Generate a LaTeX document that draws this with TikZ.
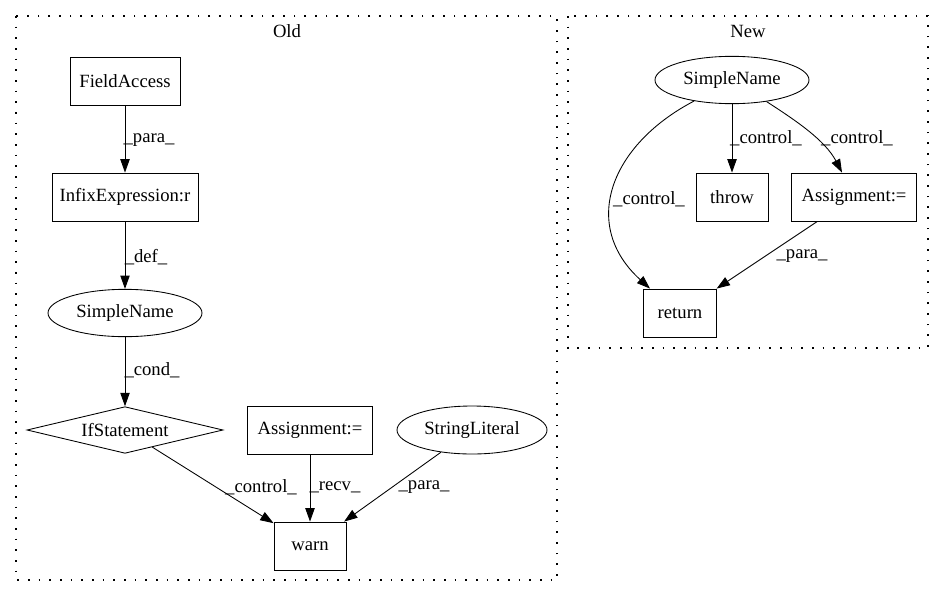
\documentclass[tikz,border=0pt]{standalone}
\usepackage{fontspec}
\setmainfont{Liberation Serif}
\usetikzlibrary{shapes.geometric,arrows.meta,calc}
\begin{document}
\begin{tikzpicture}[x=0.75pt,y=-0.75pt,
  every node/.style={font=\fontsize{14pt}{16pt}\selectfont},
  box/.style={draw, rectangle, minimum height=36pt, inner sep=0pt, line width=0.65pt},
  oval/.style={draw, ellipse, minimum height=35.5pt, inner sep=0pt, line width=0.65pt},
  dia/.style={draw, diamond, aspect=4, minimum width=147pt, minimum height=35pt, inner sep=0pt, line width=0.65pt},
  cluster/.style={draw, line width=0.9pt, dash pattern=on 1.3pt off 6.7pt},
  edge/.style={-{Triangle[length=10pt,width=7pt]}, line width=0.65pt},
  lbl/.style={inner sep=0pt}]
\useasboundingbox (0,0) rectangle (944,596);
% clusters
\draw[cluster] (16,16) rectangle (557,580);
\draw[cluster] (568,16) rectangle (928,348);
\node[lbl] (oldlbl) at (287,31) {Old};
\node[lbl] (newlbl) at (748,31) {New};
% Old nodes
\node[box, minimum width=82.5pt] (fa) at (125,81) {FieldAccess};
\node[box, minimum width=109.5pt] (ie) at (125,197) {InfixExpression:r};
\node[oval, minimum width=115.5pt] (sn) at (125,313) {SimpleName};
\node[dia] (ifs) at (125,430) {IfStatement};
\node[box, minimum width=93.75pt] (asg) at (310,430) {Assignment:=};
\node[oval, minimum width=112.5pt, minimum height=36pt] (sl) at (472,430) {StringLiteral};
\node[box, minimum width=54pt] (warn) at (310,546) {warn};
% New nodes
\node[oval, minimum width=115.5pt] (nsn) at (732,80) {SimpleName};
\node[box, minimum width=54pt] (throw) at (732,197) {throw};
\node[box, minimum width=93.75pt] (nasg) at (854,197) {Assignment:=};
\node[box, minimum width=55pt] (ret) at (680,313) {return};
% Old edges
\draw[edge] (fa) -- (ie);
\draw[edge] (ie) -- (sn);
\draw[edge] (sn) -- (ifs);
\draw[edge] (ifs) -- (warn);
\draw[edge] (asg) -- (warn);
\draw[edge] (sl) -- (warn);
\node[lbl] (l1) at (149,140) {\_para\_};
\node[lbl] (l2) at (146,257) {\_def\_};
\node[lbl] (l3) at (152,370) {\_cond\_};
\node[lbl] (l4) at (261,487) {\_control\_};
\node[lbl] (l5) at (335,487) {\_recv\_};
\node[lbl] (l6) at (424,487) {\_para\_};
% New edges
\draw[edge] (nsn) -- (throw);
\draw[edge] (nsn.-32) .. controls (795,120) and (825,140) .. ($(nasg.north)+(-12,0)$);
\draw[edge] (nsn.-151) .. controls (610,145) and (580,225) .. ($(ret.north)+(-30,0)$);
\draw[edge] (nasg) -- (ret);
\node[lbl] (l7) at (766,138) {\_control\_};
\node[lbl] (l8) at (857,138) {\_control\_};
\node[lbl] (l9) at (649,199) {\_control\_};
\node[lbl] (l10) at (802,256) {\_para\_};
\end{tikzpicture}
\end{document}
